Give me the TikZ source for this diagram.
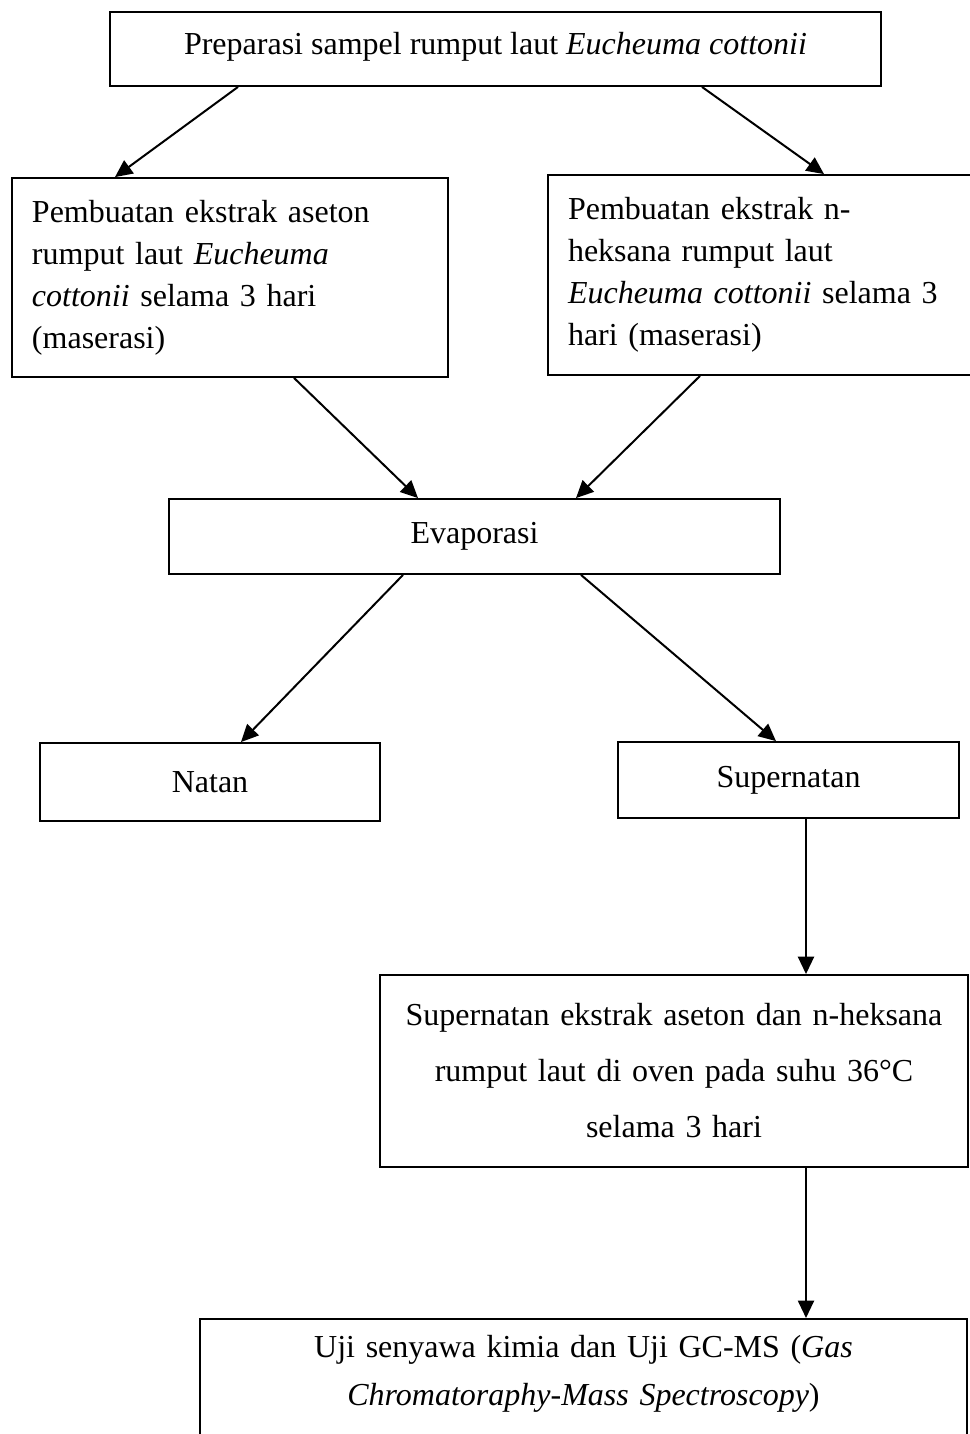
\documentclass[tikz,border=0pt]{standalone}
\usepackage{fontspec}
\setmainfont{Liberation Serif}
\usetikzlibrary{arrows.meta,calc}

\begin{document}
\begin{tikzpicture}[x=0.375pt,y=-0.375pt,
    font=\fontsize{12}{15.75}\selectfont,
    box/.style 2 args={draw,line width=0.7pt,inner sep=0pt,
      minimum width=#1*0.375pt,minimum height=#2*0.375pt},
    arrow/.style={-{Triangle[length=6.5pt,width=6pt]},line width=0.75pt}]
  \useasboundingbox (0,0) rectangle (970,1434);
  \node[box={771}{74},text depth=4pt] (prep) at (495.5,49) {Preparasi sampel rumput laut \textit{Eucheuma cottonii}};
  \node[box={436}{199},text width=148.5pt,align=left] (aseton) at (230,277.5)
    {Pembuatan ekstrak aseton\\ rumput laut \textit{Eucheuma}\\ \textit{cottonii} selama 3 hari\\ (maserasi)};
  \node[box={432}{200},text width=147pt,align=left] (heksana) at (764,275)
    {Pembuatan ekstrak n-\\ heksana rumput laut\\ \textit{Eucheuma cottonii} selama 3\\ hari (maserasi)};
  \node[box={611}{75}] (evap) at (474.5,536.5) {Evaporasi};
  \node[box={340}{78}] (natan) at (210,782) {Natan};
  \node[box={341}{76}] (super) at (788.5,780) {Supernatan};
  \node[box={588}{192},text width=210pt,align=center,font=\fontsize{12}{21}\selectfont] (oven) at (674,1071)
    {Supernatan ekstrak aseton dan n-heksana\\ rumput laut di oven pada suhu 36°C\\ selama 3 hari};
  \node[box={767}{0},anchor=north,inner ysep=6pt,text width=270pt,align=center,text depth=60pt,
    font=\fontsize{12}{18}\selectfont] (gcms) at (583.5,1318)
    {Uji senyawa kimia dan Uji GC-MS (\textit{Gas}\\ \textit{Chromatoraphy-Mass Spectroscopy})};

  % arrows
  \draw[arrow] ($(prep.south)+(-257.5,0)$) -- ($(aseton.north)+(-115,0)$);
  \draw[arrow] ($(prep.south)+(206.5,0)$) -- ($(heksana.north)+(60,0)$);
  \draw[arrow] ($(aseton.south)+(64,0)$) -- ($(evap.north)+(-56.5,0)$);
  \draw[arrow] ($(heksana.south)+(-64,0)$) -- ($(evap.north)+(101.5,0)$);
  \draw[arrow] ($(evap.south)+(-71.5,0)$) -- ($(natan.north)+(31,0)$);
  \draw[arrow] ($(evap.south)+(106.5,0)$) -- ($(super.north)+(-12.5,0)$);
  \draw[arrow] ($(super.south)+(17.5,0)$) -- ($(oven.north)+(132,0)$);
  \draw[arrow] ($(oven.south)+(132,0)$) -- ($(gcms.north)+(222.5,0)$);
\end{tikzpicture}
\end{document}
